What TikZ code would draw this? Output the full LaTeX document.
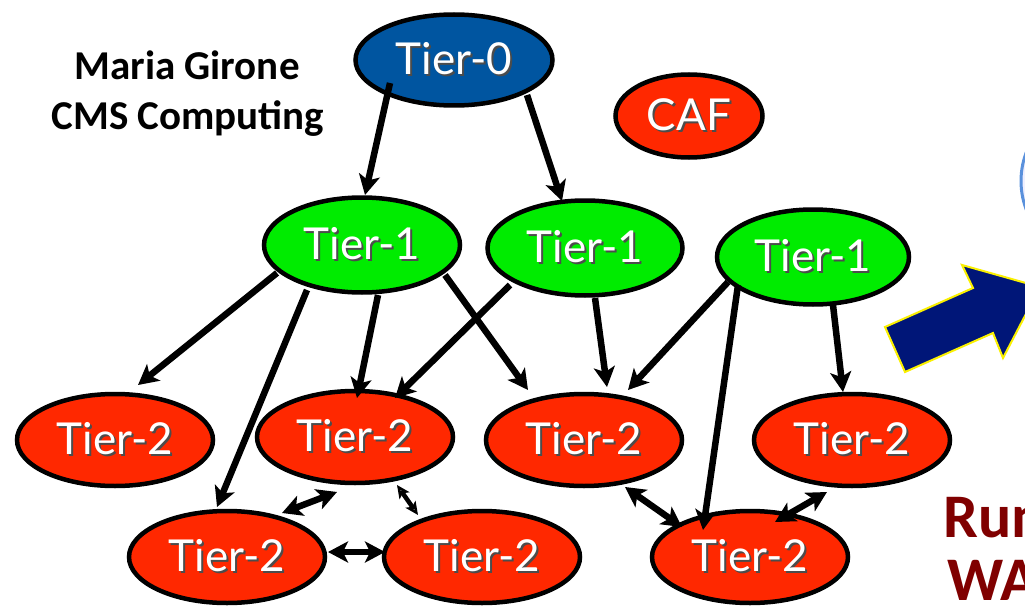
\documentclass[tikz,border=0pt]{standalone}
\usepackage{fontspec}
\setmainfont{Lato}
\newfontfamily\calibri{Carlito}
\usetikzlibrary{shapes.geometric,arrows.meta,calc}
\definecolor{tred}{RGB}{255,40,0}
\definecolor{tgreen}{RGB}{0,236,0}
\definecolor{tblue}{RGB}{0,85,160}
\definecolor{navyarrow}{RGB}{0,22,120}
\definecolor{arrowedge}{RGB}{250,240,0}
\definecolor{darkred}{RGB}{128,0,0}
\definecolor{circedge}{RGB}{90,145,220}
\newcommand\shtxt[1]{\makebox[0pt][l]{\hspace{2pt}\raisebox{-2pt}{\textcolor{black!70}{#1}}}\textcolor{white}{#1}}
\begin{document}
\begin{tikzpicture}[x=1pt,y=-1pt,
  tier/.style={ellipse, draw=black, line width=4.5pt, inner sep=0pt,
    minimum width=196pt, minimum height=92pt, font=\fontsize{44}{48}\selectfont},
  tzero/.style={tier, fill=tblue, minimum width=197pt, minimum height=91pt},
  tone/.style={tier, fill=tgreen, minimum height=95pt},
  ttwo/.style={tier, fill=tred},
  conn/.style={line width=6.5pt, -{Stealth[length=20pt,width=21pt,inset=5pt]}},
  biconn/.style={line width=6.5pt, {Stealth[length=20pt,width=21pt,inset=5pt]}-{Stealth[length=20pt,width=21pt,inset=5pt]}},
  smallbi/.style={line width=4.5pt, {Stealth[length=13pt,width=12pt,inset=3pt,open]}-{Stealth[length=13pt,width=12pt,inset=3pt,open]}},
  author/.style={font=\calibri\bfseries\fontsize{41}{49}\selectfont, inner sep=0pt},
  bigred/.style={font=\calibri\bfseries\fontsize{62}{64}\selectfont, text=darkred, inner sep=0pt}
]
\useasboundingbox (0,0) rectangle (1025,607);
\fill[white] (0,0) rectangle (1025,607);

% partial circle at right edge
\draw[circedge, line width=3pt, fill=blue!6] (1101,181) circle[radius=80];

% nodes
\node[tzero] (t0) at (454,60) {\shtxt{Tier-0}};
\node[ttwo, minimum width=147pt, minimum height=83pt] (caf) at (689,116) {\shtxt{CAF}};
\node[tone] (t1a) at (362,245) {\shtxt{Tier-1}};
\node[tone, minimum width=195pt] (t1b) at (585,248) {\shtxt{Tier-1}};
\node[tone, minimum width=192pt] (t1c) at (813,257) {\shtxt{Tier-1}};
\node[ttwo] (r1a) at (115,440) {\shtxt{Tier-2}};
\node[ttwo] (r1b) at (355,437) {\shtxt{Tier-2}};
\node[ttwo] (r1c) at (584,440) {\shtxt{Tier-2}};
\node[ttwo] (r1d) at (852,440) {\shtxt{Tier-2}};
\node[ttwo] (r2a) at (227,557) {\shtxt{Tier-2}};
\node[ttwo] (r2b) at (482,557) {\shtxt{Tier-2}};
\node[ttwo] (r2c) at (750,557) {\shtxt{Tier-2}};

% text
\node[author, anchor=base] (mg1) at (187,80) {Maria Girone};
\node[author, anchor=base] (mg2) at (188,129) {CMS Computing};
\node[bigred, anchor=base west] (run) at (943,537) {Run};
\node[bigred, anchor=base west] (wa) at (947,600) {WA};

% blue arrow
\draw[arrowedge, line width=2pt, fill=navyarrow, line join=miter]
  (905,372) -- (885,327) -- (973,288) -- (962,265) -- (1040,287) -- (1003,358) -- (993,333) -- cycle;

% connectors
\draw[conn] ($(t0)+(-64,23)$) -- ($(t1a)+(3,-50)$);
\draw[conn] ($(t0)+(73,35)$) -- ($(t1b)+(-23,-47)$);
\draw[conn] ($(t1a)+(-85,28)$) -- ($(r1a)+(23,-55)$);
\draw[conn] ($(t1a)+(-55,45)$) -- ($(r2a)+(-10,-50)$);
\draw[conn] ($(t1a)+(16,50)$) -- ($(r1b)+(2,-39)$);
\draw[conn] ($(t1b)+(-75,37)$) -- ($(r1b)+(40,-39)$);
\draw[conn] ($(t1a)+(83,30)$) -- ($(r1c)+(-56,-50)$);
\draw[conn] ($(t1b)+(10,50)$) -- ($(r1c)+(23,-53)$);
\draw[conn] ($(t1c)+(-85,25)$) -- ($(r1c)+(44,-50)$);
\draw[conn] ($(t1c)+(-75,28)$) -- ($(r2c)+(-47,-27)$);
\draw[conn] ($(t1c)+(20,48)$) -- ($(r1d)+(-9,-48)$);

\draw[biconn] ($(r2a)+(55,-44)$) -- ($(r1b)+(-18,55)$);
\draw[smallbi] ($(r1b)+(42,48)$) -- ($(r2b)+(-64,-42)$);
\draw[biconn] ($(r2a)+(101,-5)$) -- ($(r2b)+(-97,-5)$);
\draw[biconn] ($(r1c)+(41,47)$) -- ($(r2c)+(-68,-30)$);
\draw[biconn] ($(r1d)+(-25,52)$) -- ($(r2c)+(25,-35)$);
\end{tikzpicture}
\end{document}
